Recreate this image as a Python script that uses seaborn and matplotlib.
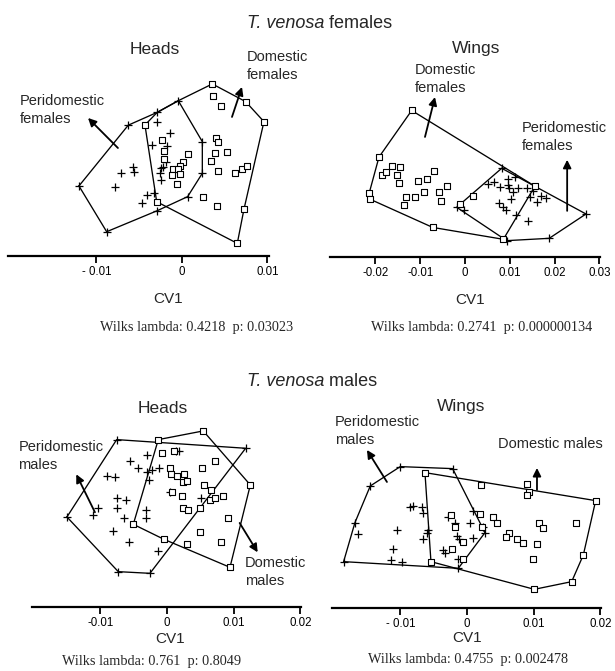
import numpy as np
import pandas as pd
import matplotlib
matplotlib.use("Agg")
import matplotlib.pyplot as plt
import seaborn as sns

# canonical variate scores, in units of 1e-3 (CV1 across, CV2 up)

# females, heads
fh_peri_x = [-6.28, -12.05, -8.81, -2.89, 0.66, 2.38, 2.38, -0.43, -2.89, -2.96, -1.40, -3.55, -1.79,
             -7.17, -5.77, -5.61, -7.84, -4.13, -4.72, -3.27, -2.49, -2.49, -2.19, -2.57, -1.91]
fh_peri_y = [15.3, 8.19, 2.84, 5.30, 6.94, 9.67, 13.37, 18.16, 16.8, 15.7, 14.35, 13.0, 12.87,
             9.75, 10.37, 9.86, 8.03, 7.13, 6.24, 7.33, 10.26, 8.89, 10.45, 9.75, 11.03]
fh_dom_x = [3.55, 3.66, 4.52, 7.45, 9.59, 3.98, 4.25, 3.86, 5.22, 3.35, 4.25, 6.2, 6.98, 7.64, 0.74, 0.08,
            -0.23, -1.02, -0.43, -1.2, -0.23, -0.62, -2.3, -2.11, -2.11, 2.49, 4.06, 7.25, 6.47, -2.96, -4.33]
fh_dom_y = [20.12, 18.71, 17.58, 18.05, 15.71, 13.8, 13.37, 12.08, 12.2, 11.11, 9.94, 9.75, 10.14, 10.53,
            11.89, 11.03, 10.53, 10.14, 10.14, 9.47, 9.55, 8.42, 13.57, 12.28, 11.3, 6.94, 5.85, 5.46, 1.48,
            6.35, 15.32]
fh_peri_hull_x = [-12.05, -6.28, -2.89, -0.43, 2.38, 2.38, 0.66, -2.89, -8.81]
fh_peri_hull_y = [8.19, 15.3, 16.8, 18.16, 13.37, 9.67, 6.94, 5.30, 2.84]
fh_dom_hull_x = [-4.33, -2.89, -0.43, 3.55, 7.45, 9.59, 7.25, 6.47, -2.96]
fh_dom_hull_y = [15.32, 16.8, 18.16, 20.12, 18.05, 15.71, 5.46, 1.48, 6.35]

# females, wings
fw_peri_x = [8.19, 27.0, 18.8, 9.3, -1.86, 11.16, 9.67, 5.2, 6.47, 7.81, 9.67, 9.9, 11.9, 13.9, 15.2,
             10.8, 10.2, 7.66, 8.56, 9.15, 11.3, 14.1, 14.5, 16.1, 18.1, 16.9, -0.22]
fw_peri_y = [19.8, 9.6, 4.17, 3.65, 11.1, 17.8, 17.3, 16.3, 16.8, 15.6, 16.1, 15.3, 15.3, 15.3, 14.8,
             14.4, 12.9, 12.1, 11.2, 10.6, 9.4, 8.1, 13.3, 12.3, 13.1, 13.6, 10.5]
fw_dom_x = [-11.9, -19.2, -21.4, -21.2, -7.2, 8.56, 15.6, -1.1, 1.86, -16.4, -14.4, -18.6, -17.6,
            -15.1, -14.7, -10.6, -8.4, -6.9, -4.1, -5.7, -5.4, -9.2, -11.2, -13.2, -13.6]
fw_dom_y = [32.7, 22.3, 14.2, 12.9, 6.6, 3.95, 15.8, 11.8, 13.6, 20.3, 20.0, 18.3, 19.0,
            18.3, 16.6, 17.0, 17.4, 19.3, 15.9, 14.4, 12.5, 14.4, 13.5, 13.5, 11.6]
fw_peri_hull_x = [8.19, 27.0, 18.8, 9.3, -1.86]
fw_peri_hull_y = [19.8, 9.6, 4.17, 3.65, 11.1]
fw_dom_hull_x = [-11.9, 15.6, 8.56, -7.2, -21.2, -21.4, -19.2]
fw_dom_hull_y = [32.7, 15.8, 3.95, 6.6, 12.9, 14.2, 22.3]

# males, heads
mh_peri_x = [-7.54, 11.8, -2.55, -7.3, -15.0, -3.04, -5.55, -4.3, -3.04, -2.3, -1.15, -2.65, -9.04,
             -7.8, -7.54, -6.15, -10.4, -11.1, -7.54, -6.45, -3.2, -3.2, -8.05, -5.7, -1.3, 1.3, 1.8,
             5.1, 0.45]
mh_peri_y = [25.1, 23.8, 5.05, 5.3, 13.5, 22.8, 21.9, 20.9, 20.3, 20.6, 20.8, 19.1, 19.6,
             19.5, 16.4, 16.1, 14.9, 13.8, 14.8, 13.3, 14.6, 13.4, 11.4, 9.8, 8.4, 23.4, 23.4,
             16.3, 17.3]
mh_dom_x = [-1.3, 5.44, 12.5, 9.45, -0.45, -5.05, -0.8, 1.1, 0.45, 0.55, 1.45, 2.55, 2.35, 2.95, 5.2,
            7.2, 5.55, 6.55, 6.45, 7.2, 8.35, 2.2, 0.7, 2.35, 3.2, 4.95, 9.2, 4.95, 2.95, 8.05]
mh_dom_y = [25.1, 26.4, 18.3, 5.95, 10.15, 12.4, 23.1, 23.4, 20.8, 19.9, 19.6, 19.9, 18.8, 18.9, 20.9,
            21.9, 18.3, 17.6, 16.0, 16.4, 16.6, 16.6, 17.3, 14.8, 14.5, 14.9, 13.3, 11.3, 9.45, 9.8]
mh_peri_hull_x = [-15.0, -7.54, 11.8, -2.55, -7.3]
mh_peri_hull_y = [13.5, 25.1, 23.8, 5.05, 5.3]
mh_dom_hull_x = [-5.05, -1.3, 5.44, 12.5, 9.45, -0.45]
mh_dom_hull_y = [12.4, 25.1, 26.4, 18.3, 5.95, 10.15]

# males, wings
mw_peri_x = [-18.5, -16.8, -14.5, -10.0, -2.15, 2.7, -1.3, -16.3, -8.55, -8.15, -6.8, -6.65, -10.5,
             -11.05, -11.45, -9.8, -5.8, -5.95, -6.55, -2.8, -1.8, 0.45, 0.95, -1.55, -1.15, -3.55,
             -3.3, -1.3, 0.95, 2.35]
mw_peri_y = [6.95, 12.8, 18.3, 21.2, 20.9, 11.3, 5.95, 11.1, 15.2, 15.3, 15.1, 14.2, 11.7,
             8.8, 7.2, 6.95, 11.7, 11.3, 10.3, 13.7, 12.7, 12.7, 14.6, 10.8, 10.3, 8.7,
             8.2, 7.3, 10.45, 12.2]
mw_dom_x = [-6.3, 19.3, 17.45, 15.7, 10.1, -5.4, 2.05, 9.05, 9.35, 9.05, -2.45, -1.8, 1.95, 2.2,
            3.95, 4.45, 10.85, 11.45, 16.35, 6.35, 5.85, 7.55, 8.35, 10.45, 9.85, -2.3, -0.65, -0.55]
mw_dom_y = [20.3, 16.1, 7.95, 3.95, 2.8, 6.95, 18.4, 18.6, 17.4, 16.9, 13.9, 12.2, 14.1, 12.2,
            13.7, 12.8, 12.8, 11.95, 12.8, 11.2, 10.6, 10.3, 9.8, 9.55, 7.3, 8.8, 7.3, 9.95]
mw_peri_hull_x = [-18.5, -16.8, -14.5, -10.0, -2.15, 2.7, -1.3]
mw_peri_hull_y = [6.95, 12.8, 18.3, 21.2, 20.9, 11.3, 5.95]
mw_dom_hull_x = [-6.3, 19.3, 17.45, 15.7, 10.1, -5.4]
mw_dom_hull_y = [20.3, 16.1, 7.95, 3.95, 2.8, 6.95]

# ticks (values x1e-3) and their printed labels
fh_ticks, fh_ticklabels = [-10, 0, 10], ["- 0.01", "0", "0.01"]
fw_ticks, fw_ticklabels = [-20, -10, 0, 10, 20, 30], ["-0.02", "-0.01", "0", "0.01", "0.02", "0.03"]
mh_ticks, mh_ticklabels = [-10, 0, 10, 20], ["-0.01", "0", "0.01", "0.02"]
mw_ticks, mw_ticklabels = [-10, 0, 10, 20], ["- 0.01", "0", "0.01", "0.02"]

wilks = ["Wilks lambda: 0.4218  p: 0.03023", "Wilks lambda: 0.2741  p: 0.000000134",
         "Wilks lambda: 0.761  p: 0.8049", "Wilks lambda: 0.4755  p: 0.002478"]

sns.set_theme(style="white")
plt.rcParams["font.family"] = ["Liberation Sans", "DejaVu Sans"]

W, H = 615, 671
fig = plt.figure(figsize=(W / 100, H / 100), dpi=100)


def px_axes(x0, x1, ytop, ybot):
    return fig.add_axes([x0 / W, 1 - ybot / H, (x1 - x0) / W, (ybot - ytop) / H])


def closed(hx, hy):
    return pd.DataFrame({"x": hx + hx[:1], "y": hy + hy[:1]})


def draw_panel(ax, peri, dom, peri_hull, dom_hull, xlim, ylim, ticks, ticklabels):
    for hx, hy in (peri_hull, dom_hull):
        sns.lineplot(data=closed(hx, hy), x="x", y="y", sort=False, estimator=None,
                     color="black", lw=0.95, ax=ax)
    sns.scatterplot(x=peri[0], y=peri[1], marker="+", s=36, color="black", linewidth=0.9,
                    ax=ax, zorder=3)
    sns.scatterplot(x=dom[0], y=dom[1], marker="s", s=16, color="white", edgecolor="black",
                    linewidth=0.8, ax=ax, zorder=4)
    ax.set_xlim(*xlim)
    ax.set_ylim(*ylim)
    ax.set_xticks(ticks)
    ax.set_xticklabels(ticklabels, fontsize=8.3)
    ax.set_yticks([])
    ax.set_xlabel("")
    ax.set_ylabel("")
    for s in ("left", "top", "right"):
        ax.spines[s].set_visible(False)
    ax.spines["bottom"].set_color("black")
    ax.spines["bottom"].set_linewidth(1.6)
    ax.tick_params(axis="x", direction="out", length=5, width=1.3, pad=2.5, bottom=True,
                   colors="black")
    ax.patch.set_alpha(0)


def label(ax, x, y, text, arrow_from, arrow_to):
    ax.text(x, y, text, ha="left", va="center", fontsize=10.5, linespacing=1.35, clip_on=False)
    ax.annotate("", xy=arrow_to, xytext=arrow_from, annotation_clip=False,
                arrowprops=dict(arrowstyle="-|>", color="black", lw=1.3, mutation_scale=12,
                                shrinkA=0, shrinkB=0))


ax1 = px_axes(8, 269, 60, 256)
draw_panel(ax1, (fh_peri_x, fh_peri_y), (fh_dom_x, fh_dom_y), (fh_peri_hull_x, fh_peri_hull_y),
           (fh_dom_hull_x, fh_dom_hull_y), (-20.35, 10.18), (0, 22.92), fh_ticks, fh_ticklabels)
label(ax1, -18.95, 17.1, "Peridomestic\nfemales", (-7.49, 12.63), (-10.99, 16.14))
label(ax1, 7.6, 22.2, "Domestic\nfemales", (5.85, 16.26), (7.02, 19.77))

ax2 = px_axes(330, 600, 60, 257)
draw_panel(ax2, (fw_peri_x, fw_peri_y), (fw_dom_x, fw_dom_y), (fw_peri_hull_x, fw_peri_hull_y),
           (fw_dom_hull_x, fw_dom_hull_y), (-30.13, 30.13), (0, 43.97), fw_ticks, fw_ticklabels)
label(ax2, -11.2, 39.8, "Domestic\nfemales", (-8.93, 26.8), (-6.7, 35.7))
label(ax2, 12.7, 26.7, "Peridomestic\nfemales", (22.8, 10.3), (22.8, 21.7))

ax3 = px_axes(32, 301, 420, 607)
draw_panel(ax3, (mh_peri_x, mh_peri_y), (mh_dom_x, mh_dom_y), (mh_peri_hull_x, mh_peri_hull_y),
           (mh_dom_hull_x, mh_dom_hull_y), (-20.24, 20.1), (0, 28.04), mh_ticks, mh_ticklabels)
label(ax3, -22.3, 22.6, "Peridomestic\nmales", (-10.8, 14.2), (-13.6, 19.9))
label(ax3, 11.7, 5.3, "Domestic\nmales", (10.9, 12.6), (13.6, 8.2))

ax4 = px_axes(332, 601, 420, 608)
draw_panel(ax4, (mw_peri_x, mw_peri_y), (mw_dom_x, mw_dom_y), (mw_peri_hull_x, mw_peri_hull_y),
           (mw_dom_hull_x, mw_dom_hull_y), (-20.24, 20.1), (0, 28.19), mw_ticks, mw_ticklabels)
label(ax4, -19.8, 26.5, "Peridomestic\nmales", (-12.0, 18.9), (-15.0, 23.7))
label(ax4, 4.65, 24.6, "Domestic males", (10.5, 17.7), (10.5, 21.0))


def ftext(x, y, s, **kw):
    fig.text(x / W, 1 - y / H, s, **kw)


# section titles
ftext(324, 23, "T. venosa", ha="right", va="center", fontsize=13, style="italic")
ftext(324, 23, " females", ha="left", va="center", fontsize=13)
ftext(324, 382, "T. venosa", ha="right", va="center", fontsize=13, style="italic")
ftext(324, 382, " males", ha="left", va="center", fontsize=13)

# panel titles
ftext(155, 49, "Heads", ha="center", va="center", fontsize=12.5)
ftext(476, 49, "Wings", ha="center", va="center", fontsize=12.5)
ftext(163, 409, "Heads", ha="center", va="center", fontsize=12.5)
ftext(461, 407, "Wings", ha="center", va="center", fontsize=12.5)

# axis labels and statistics
for (cx, cy), (wx, wy), txt in zip([(168, 299), (470, 300), (170, 639), (467, 638)],
                                   [(197, 327), (482, 327), (152, 661), (468, 660)], wilks):
    ftext(cx, cy, "CV1", ha="center", va="center", fontsize=11)
    ftext(wx, wy, txt, ha="center", va="center", fontsize=10.3,
          family=["Liberation Serif", "DejaVu Serif"])

fig.savefig("out.png", dpi=100)
